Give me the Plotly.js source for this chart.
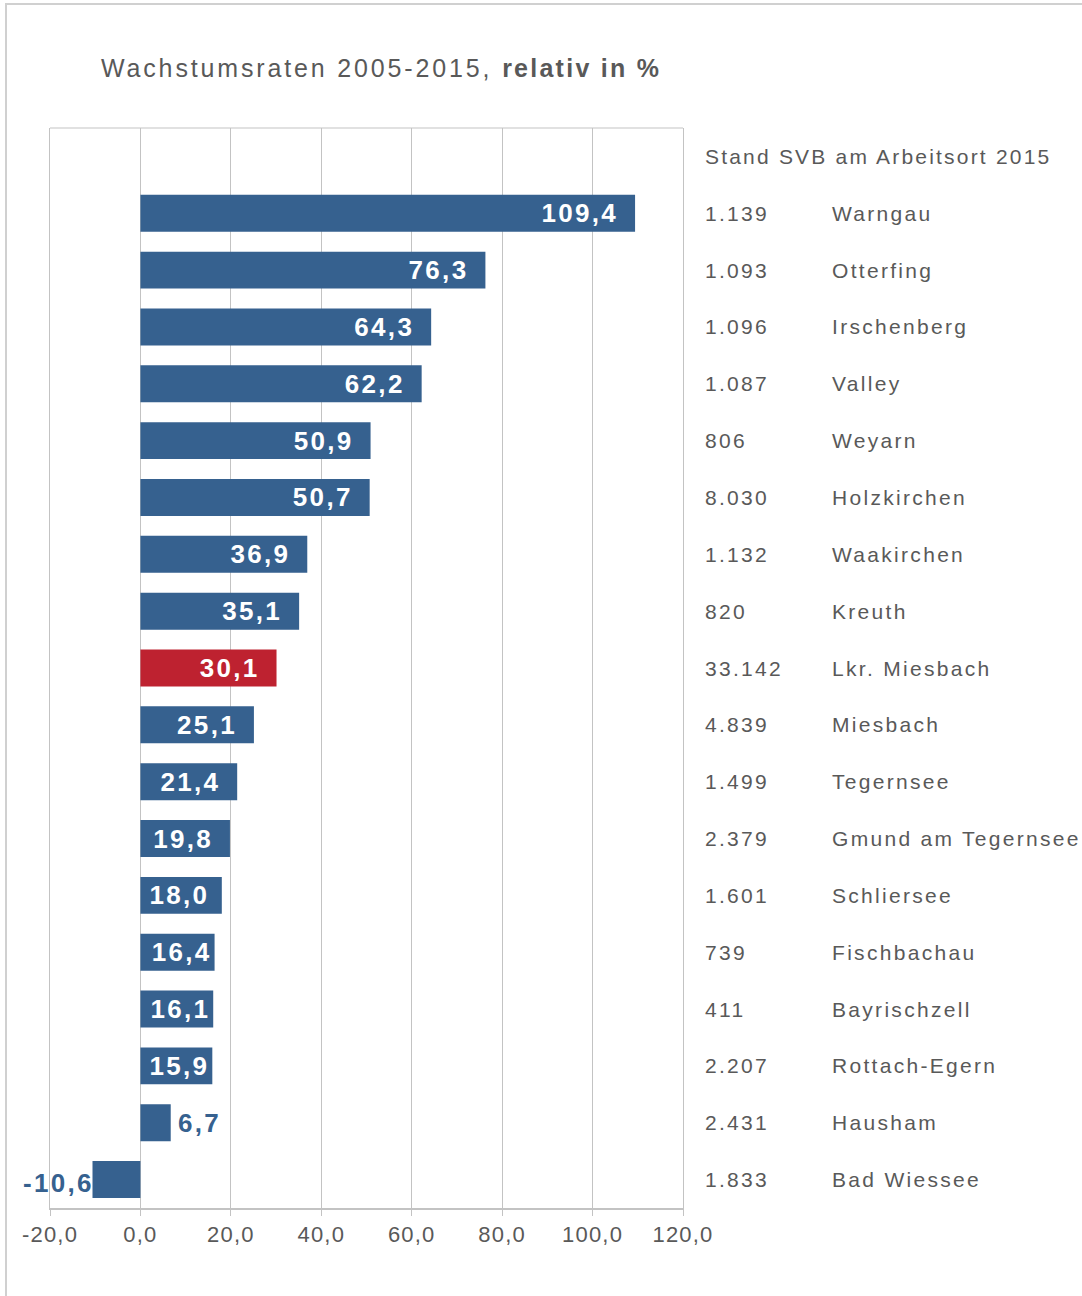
<!DOCTYPE html>
<html>
<head>
<meta charset="utf-8">
<script src="https://cdn.plot.ly/plotly-3.0.1.min.js"></script>
<style>
  html, body { margin: 0; padding: 0; background: #ffffff; }
  #wrap { position: relative; width: 1082px; height: 1296px; overflow: hidden; }
  #frame { position: absolute; left: 5px; top: 3px; width: 1100px; height: 1300px;
           border-left: 2px solid #d0d0d0; border-top: 2px solid #d0d0d0; pointer-events: none; }
  #chart { position: absolute; left: 0; top: 0; width: 1082px; height: 1296px; }
  .gtitle { letter-spacing: 2.85px; }
  .xtick text { letter-spacing: 1.2px; }
  .annotation-text { letter-spacing: 2.3px; }
  .bartext { letter-spacing: 2.3px; }
</style>
</head>
<body>
<div id="wrap">
  <div id="chart"></div>
  <div id="frame"></div>
</div>
<script>
// ---- data ----
const names = ['Warngau','Otterfing','Irschenberg','Valley','Weyarn','Holzkirchen','Waakirchen','Kreuth','Lkr. Miesbach','Miesbach','Tegernsee','Gmund am Tegernsee','Schliersee','Fischbachau','Bayrischzell','Rottach-Egern','Hausham','Bad Wiessee'];
const svb = ['1.139','1.093','1.096','1.087','806','8.030','1.132','820','33.142','4.839','1.499','2.379','1.601','739','411','2.207','2.431','1.833'];
const growth = [109.4, 76.3, 64.3, 62.2, 50.9, 50.7, 36.9, 35.1, 30.1, 25.1, 21.4, 19.8, 18.0, 16.4, 16.1, 15.9, 6.7, -10.6];
const xTickVals = [-20, 0, 20, 40, 60, 80, 100, 120];
const headerText = 'Stand SVB am Arbeitsort 2015';
const titleText = 'Wachstumsraten 2005-2015, <b><span style="letter-spacing:2.25px">relativ in %</span></b>';
const highlightName = 'Lkr. Miesbach';

// ---- styling ----
const BLUE = '#36618f';
const RED = '#be2230';
const TXT = '#595959';
const GRID = '#c3c3c3';
const FONT = 'Liberation Sans, Arial, sans-serif';

const plotL = 50, plotR = 683;
const plotW = plotR - plotL;
const xMin = -20, xMax = 120;
const pxPerUnit = plotW / (xMax - xMin);

const fmt = v => v.toFixed(1).replace('.', ',');
const idx = names.map((n, i) => i);
const outsideLimit = 10; // small bars get their label outside the bar
const isOutside = growth.map(v => v < outsideLimit);
// inner padding after the label shrinks when the bar is short
const approxLabelW = 60;
const labels = growth.map((v, i) => {
  if (isOutside[i]) return '';
  const room = v * pxPerUnit - approxLabelW;
  const pad = room > 25 ? '\u00a0\u200a' : (room > 16 ? '\u00a0' : '');
  return fmt(v) + pad;
});
const colors = names.map(n => (n === highlightName ? RED : BLUE));

const trace = {
  type: 'bar',
  orientation: 'h',
  x: growth,
  y: idx,
  width: 0.65,
  marker: { color: colors, line: { width: 0 } },
  text: labels,
  textposition: 'inside',
  insidetextanchor: 'end',
  textangle: 0,
  constraintext: 'none',
  cliponaxis: false,
  insidetextfont: { family: FONT, size: 26, color: '#ffffff', weight: 'bold' },
  hoverinfo: 'none'
};

const numX = (703 - plotL) / plotW;
const nameX = (830 - plotL) / plotW;

const annotations = [];
annotations.push({
  xref: 'paper', yref: 'y', x: numX, y: -1, xanchor: 'left', yanchor: 'middle',
  text: '<span style="letter-spacing:2.2px">' + headerText + '</span>', showarrow: false,
  font: { family: FONT, size: 21, color: TXT }
});
names.forEach((n, i) => {
  annotations.push({
    xref: 'paper', yref: 'y', x: numX, y: i, xanchor: 'left', yanchor: 'middle',
    text: svb[i], showarrow: false, font: { family: FONT, size: 21, color: TXT }
  });
  annotations.push({
    xref: 'paper', yref: 'y', x: nameX, y: i, xanchor: 'left', yanchor: 'middle',
    text: n, showarrow: false, font: { family: FONT, size: 21, color: TXT }
  });
});
// value labels for the short bars, placed outside the bar end
growth.forEach((v, i) => {
  if (!isOutside[i]) return;
  const neg = v < 0;
  annotations.push({
    xref: 'x', yref: 'y', x: v, y: i,
    xanchor: neg ? 'right' : 'left', yanchor: 'middle',
    xshift: neg ? 3 : 5, yshift: neg ? -3.5 : 0,
    text: '<b>' + fmt(v) + '</b>', showarrow: false,
    font: { family: FONT, size: 26, color: BLUE }
  });
});

const layout = {
  width: 1082,
  height: 1296,
  paper_bgcolor: '#ffffff',
  plot_bgcolor: '#ffffff',
  margin: { l: plotL, r: 1082 - plotR, t: 128, b: 88, pad: 0 },
  separators: ',.',
  showlegend: false,
  font: { family: FONT, color: TXT },
  title: {
    text: titleText,
    xref: 'container', yref: 'container',
    x: 101 / 1082, xanchor: 'left',
    y: 1 - 68 / 1296, yanchor: 'middle',
    font: { family: FONT, size: 25, color: TXT }
  },
  xaxis: {
    range: [xMin, xMax],
    tickvals: xTickVals,
    ticktext: xTickVals.map(fmt),
    showgrid: true, gridcolor: GRID, gridwidth: 1,
    zeroline: false,
    showline: true, linecolor: GRID, linewidth: 2, mirror: false,
    ticks: 'outside', ticklen: 6, tickcolor: GRID, tickwidth: 1,
    ticklabelstandoff: 0,
    tickfont: { family: FONT, size: 22, color: TXT },
    fixedrange: true
  },
  yaxis: {
    range: [17.5, -1.5],
    showticklabels: false,
    showgrid: false,
    zeroline: false,
    showline: true, linecolor: GRID, linewidth: 1, mirror: true,
    ticks: '',
    fixedrange: true
  },
  shapes: [
    { type: 'line', xref: 'paper', yref: 'paper', x0: 0, x1: 1, y0: 1, y1: 1,
      line: { color: GRID, width: 1 }, layer: 'below' }
  ],
  annotations: annotations
};

Plotly.newPlot('chart', [trace], layout, { displayModeBar: false, staticPlot: true });
</script>
</body>
</html>
